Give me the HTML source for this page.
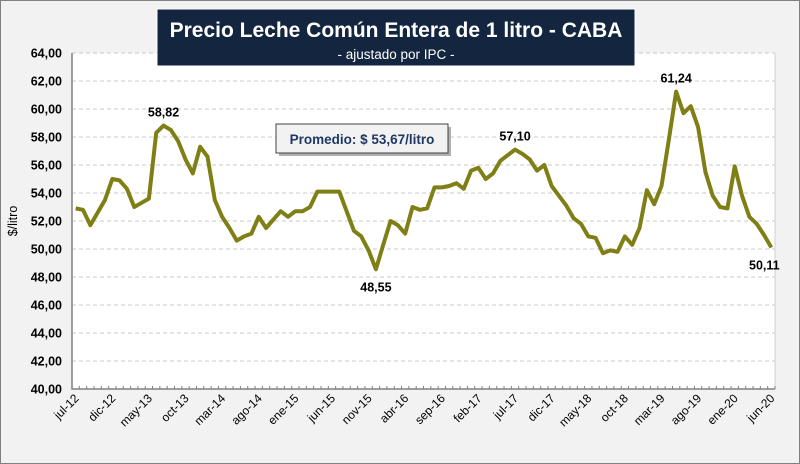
<!DOCTYPE html>
<html><head><meta charset="utf-8"><style>
body{margin:0;width:800px;height:464px;overflow:hidden;background:#fff;font-family:"Liberation Sans",sans-serif}
#wrap{position:absolute;left:0;top:0;width:798px;height:462px;background:#f2f2f2;border:1px solid #808080}
</style></head><body>
<div id="wrap">
<svg id="chart" width="800" height="464" style="position:absolute;left:-1px;top:-1px"></svg>
</div>
<script>
const categories=["jul-12","dic-12","may-13","oct-13","mar-14","ago-14","ene-15","jun-15","nov-15","abr-16","sep-16","feb-17","jul-17","dic-17","may-18","oct-18","mar-19","ago-19","ene-20","jun-20"];
const values=[52.9,52.8,51.7,52.6,53.5,55.0,54.9,54.3,53.0,53.3,53.6,58.3,58.82,58.5,57.7,56.4,55.4,57.3,56.6,53.5,52.3,51.5,50.6,50.9,51.1,52.3,51.5,52.1,52.7,52.3,52.7,52.7,53.0,54.1,54.1,54.1,54.1,52.7,51.3,50.9,49.9,48.55,50.3,52.0,51.7,51.1,53.0,52.8,52.9,54.4,54.4,54.5,54.7,54.3,55.6,55.8,55.0,55.4,56.3,56.7,57.10,56.8,56.4,55.6,56.0,54.5,53.8,53.1,52.2,51.8,50.9,50.8,49.7,49.9,49.8,50.9,50.3,51.5,54.2,53.2,54.5,57.8,61.24,59.7,60.2,58.7,55.5,53.8,53.0,52.9,55.9,53.8,52.3,51.8,51.0,50.11];
const yTicks=[40,42,44,46,48,50,52,54,56,58,60,62,64];
const annotated=[{i:12,pos:"above"},{i:41,pos:"below"},{i:60,pos:"above"},{i:82,pos:"above"},{i:95,pos:"below"}];
const average=53.67;

const svg=document.getElementById('chart');
const NS='http://www.w3.org/2000/svg';
const L=72,R=775,T=53,B=389,ymin=40,ymax=64;
const n=values.length,step=(R-L)/n;
const xs=i=>L+(i+0.5)*step;
const ys=v=>B-(v-ymin)/(ymax-ymin)*(B-T);
const fmt=v=>v.toFixed(2).replace('.',',');
function mk(tag,attrs,parent){const e=document.createElementNS(NS,tag);for(const k in attrs)e.setAttribute(k,attrs[k]);(parent||svg).appendChild(e);return e;}

const plot=mk('rect',{x:L,y:T,width:R-L,height:B-T,fill:'#fff'});



yTicks.forEach(t=>{
  if(t>ymin){const g=mk('line',{x1:L,x2:R,y1:ys(t),y2:ys(t),stroke:'#c8c8c8','stroke-dasharray':'4,3','stroke-width':1});
  
  }
  const tx=mk('text',{x:62,y:ys(t)+4.5,'text-anchor':'end','font-size':'12.5','font-weight':'bold',fill:'#000'});
  tx.textContent=fmt(t);
  
  
});
// axes
const ax=mk('path',{d:`M${L},${T} V${B} H${R}`,stroke:'#808080','stroke-width':1.5,fill:'none'});


const rb=mk('line',{x1:R,x2:R,y1:T,y2:B,stroke:'#d0d0d0'});


for(let i=0;i<=n;i++){const tk=mk('line',{x1:L+i*step,x2:L+i*step,y1:B,y2:B-3,stroke:'#808080'});

}
categories.forEach((c,k)=>{
  const x=xs(k*5);
  const tx=mk('text',{x:x+4,y:B+10,'text-anchor':'end','font-size':'12',fill:'#000',transform:`rotate(-45 ${x+4} ${B+10})`});
  tx.textContent=c;
  
  
});
const yt=mk('text',{x:17,y:221,'text-anchor':'middle','font-size':'12.5',fill:'#000',transform:'rotate(-90 17 221)'});
yt.textContent='$/litro';



const line=mk('polyline',{points:values.map((v,i)=>xs(i)+','+ys(v)).join(' '),fill:'none',stroke:'#7f7f16','stroke-width':4,'stroke-linejoin':'round'});



annotated.forEach(a=>{
  const v=values[a.i];
  const tx=mk('text',{x:xs(a.i),y:a.pos==='above'?ys(v)-9:ys(v)+22,'text-anchor':a.i===n-1?'middle':'middle','font-size':'12.5','font-weight':'bold',fill:'#000'});
  if(a.i===n-1)tx.setAttribute('x',xs(a.i)-7);
  tx.textContent=fmt(v);
  
  
});

// average box
const ab=mk('rect',{x:276,y:124,width:172,height:29,fill:'#f2f2f2',stroke:'#404040','stroke-width':1,filter:''});
mk('rect',{x:279,y:127,width:172,height:29,fill:'#b0b0b0'});
svg.appendChild(ab);


const at=mk('text',{x:362,y:144,'text-anchor':'middle','font-size':'13.5','font-weight':'bold',fill:'#1f3864'});
at.textContent='Promedio: $ '+fmt(average)+'/litro';



// title
const tb=mk('rect',{x:157,y:9,width:478,height:57,fill:'#13253f',stroke:'#fff','stroke-width':1});


const tt=mk('text',{x:396,y:37,'text-anchor':'middle','font-size':'21','font-weight':'bold',fill:'#fff'});
tt.textContent='Precio Leche Común Entera de 1 litro - CABA';


const st=mk('text',{x:396,y:59,'text-anchor':'middle','font-size':'13.5',fill:'#fff'});
st.textContent='- ajustado por IPC -';


</script>
</body></html>
